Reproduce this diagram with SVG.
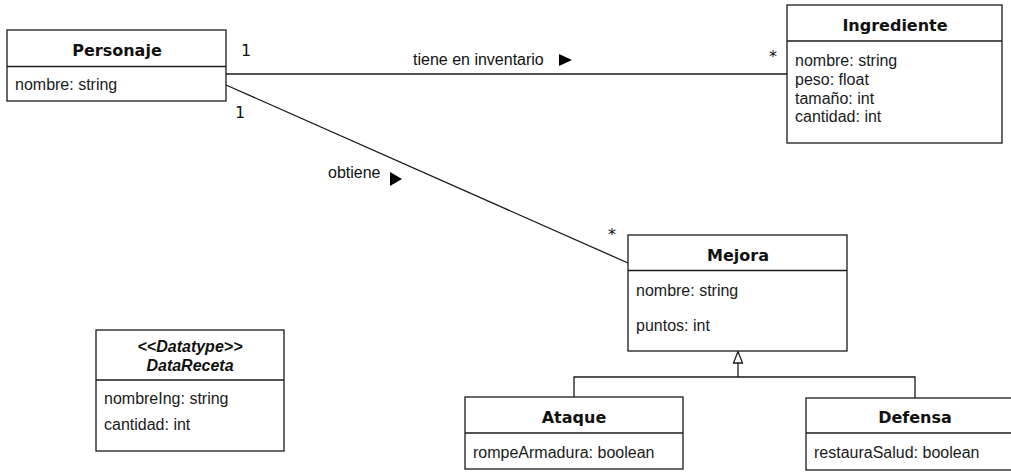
<svg xmlns="http://www.w3.org/2000/svg" width="1011" height="472" viewBox="0 0 1011 472">
<style>
.box{fill:#fff;stroke:#1a1a1a;stroke-width:1.3}
.ln{fill:none;stroke:#1a1a1a;stroke-width:1.3}
.hd{font-family:"DejaVu Sans",sans-serif;font-weight:bold;font-size:16px;fill:#111;text-anchor:middle}
.at{font-family:"Liberation Sans",Arial,sans-serif;font-size:16px;fill:#1a1a1a}
.it{font-family:"Liberation Sans",Arial,sans-serif;font-size:16px;font-weight:bold;font-style:italic;fill:#111;text-anchor:middle}
.lb{font-family:"Liberation Sans",Arial,sans-serif;font-size:16px;fill:#111}
.m{font-family:"DejaVu Sans",sans-serif;font-size:16px;fill:#111}
.tri{fill:#000}
</style>
<rect width="1011" height="472" fill="#fff"/>
<g id="connectors">
  <line class="ln" x1="226" y1="74" x2="787" y2="74"/>
  <line class="ln" x1="226" y1="85" x2="628" y2="263"/>
  <polyline class="ln" points="574,397 574,377 915,377 915,398"/>
  <line class="ln" x1="738" y1="363" x2="738" y2="377"/>
  <polygon points="738,351.5 733.5,363 742.5,363" fill="#fff" stroke="#1a1a1a" stroke-width="1.3"/>
  <text class="lb" x="413" y="65">tiene en inventario</text>
  <polygon class="tri" points="559,54 572,60 559,66"/>
  <text class="lb" x="328" y="178">obtiene</text>
  <polygon class="tri" points="390,172 402,179 390,186"/>
  <text class="m" x="241" y="56">1</text>
  <text class="m" x="235" y="118">1</text>
  <text class="m" x="769" y="62">*</text>
  <text class="m" x="608" y="240">*</text>
</g>
<g id="Personaje">
  <rect class="box" x="7" y="30" width="219" height="71"/>
  <line class="ln" x1="7" y1="66.5" x2="226" y2="66.5"/>
  <text class="hd" x="117" y="56">Personaje</text>
  <text class="at" x="15" y="90">nombre: string</text>
</g>
<g id="Ingrediente">
  <rect class="box" x="787" y="5" width="215" height="138"/>
  <line class="ln" x1="787" y1="41" x2="1002" y2="41"/>
  <text class="hd" x="895" y="31">Ingrediente</text>
  <text class="at" x="795" y="66">nombre: string</text>
  <text class="at" x="795" y="85">peso: float</text>
  <text class="at" x="795" y="104">tamaño: int</text>
  <text class="at" x="795" y="122">cantidad: int</text>
</g>
<g id="Mejora">
  <rect class="box" x="628" y="235" width="219" height="116"/>
  <line class="ln" x1="628" y1="270.5" x2="847" y2="270.5"/>
  <text class="hd" x="738" y="261">Mejora</text>
  <text class="at" x="636" y="296">nombre: string</text>
  <text class="at" x="636" y="331">puntos: int</text>
</g>
<g id="DataReceta">
  <rect class="box" x="96" y="330" width="188" height="121"/>
  <line class="ln" x1="96" y1="380" x2="284" y2="380"/>
  <text class="it" x="190" y="352">&lt;&lt;Datatype&gt;&gt;</text>
  <text class="it" x="190" y="371">DataReceta</text>
  <text class="at" x="104" y="404">nombreIng: string</text>
  <text class="at" x="104" y="430">cantidad: int</text>
</g>
<g id="Ataque">
  <rect class="box" x="465" y="397" width="218" height="72"/>
  <line class="ln" x1="465" y1="433" x2="683" y2="433"/>
  <text class="hd" x="574" y="423">Ataque</text>
  <text class="at" x="473" y="458">rompeArmadura: boolean</text>
</g>
<g id="Defensa">
  <rect class="box" x="806" y="398" width="218" height="72"/>
  <line class="ln" x1="806" y1="433" x2="1024" y2="433"/>
  <text class="hd" x="915" y="423">Defensa</text>
  <text class="at" x="814" y="458">restauraSalud: boolean</text>
</g>
</svg>
